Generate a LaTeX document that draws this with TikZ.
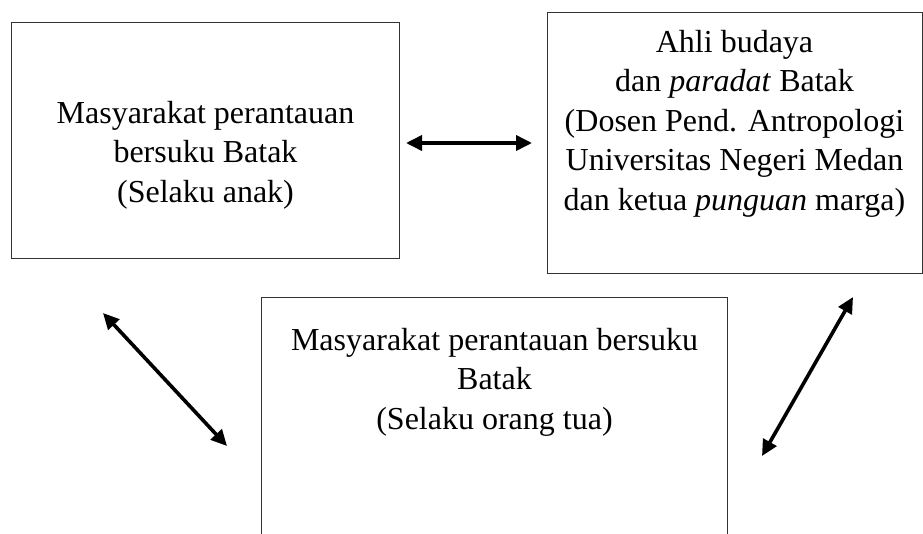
\documentclass[tikz,border=0pt]{standalone}
\usepackage{fontspec}
\setmainfont{Liberation Serif}
\usetikzlibrary{positioning, arrows.meta}
\tikzset{
  kotak/.style={draw=black!80, line width=1pt, rectangle, inner sep=0pt},
  teks/.style={align=center, inner sep=0pt, font=\fontsize{32}{39.5}\selectfont},
  panah/.style={{Triangle[length=16pt,width=15pt]}-{Triangle[length=16pt,width=15pt]}, line width=3.6pt}
}
\begin{document}
\begin{tikzpicture}[x=1pt, y=-1pt]
  \useasboundingbox (0,0) rectangle (923,533);
  \clip (0,0) rectangle (923,533);
  \node[kotak, minimum width=388pt, minimum height=236pt, anchor=north west]
    (anak) at (11,22) {};
  \node[teks, below=79pt] at (anak.north) {Masyarakat perantauan\\bersuku Batak\\(Selaku anak)};
  \node[kotak, minimum width=375pt, minimum height=261pt, anchor=north west]
    (ahli) at (546.5,12) {};
  \node[teks, below=18pt] at (ahli.north) {Ahli budaya\\dan \textit{paradat} Batak\\(Dosen Pend. Antropologi\\Universitas Negeri Medan\\dan ketua \textit{punguan} marga)};
  \node[kotak, minimum width=466pt, minimum height=300pt, anchor=north west]
    (ortu) at (261,297) {};
  \node[teks, below=31pt] at (ortu.north) {Masyarakat perantauan bersuku\\Batak\\(Selaku orang tua)};
  % ujung panah
  \coordinate (h1) at (406,143);
  \coordinate (h2) at (532,143);
  \coordinate (k1) at (103,313);
  \coordinate (k2) at (227,446);
  \coordinate (n1) at (853,297);
  \coordinate (n2) at (762,456);
  \draw[panah] (h1) -- (h2);
  \draw[panah] (k1) -- (k2);
  \draw[panah] (n1) -- (n2);
\end{tikzpicture}
\end{document}
